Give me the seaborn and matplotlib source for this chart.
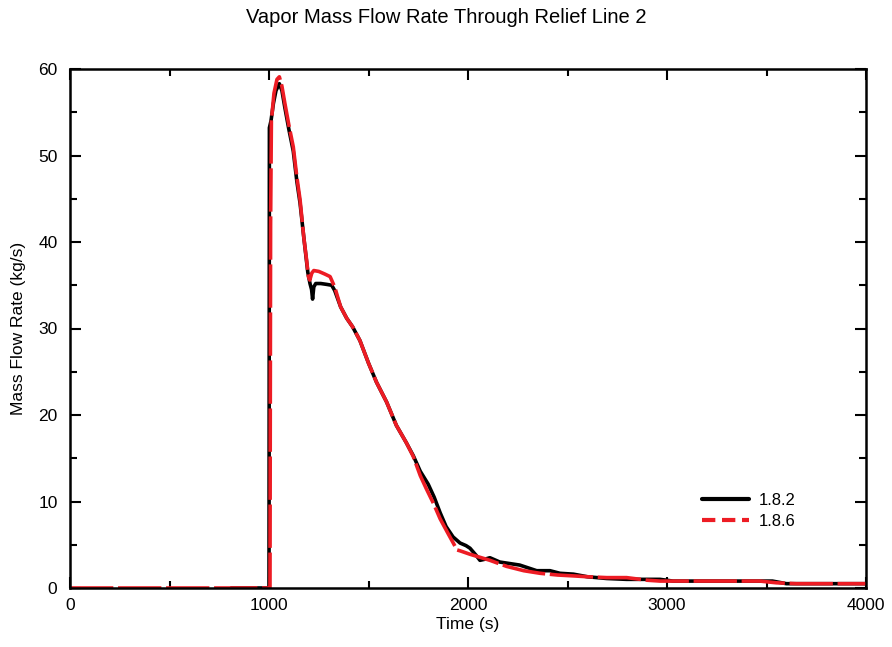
import numpy as np
import pandas as pd
import matplotlib
matplotlib.use("Agg")
import matplotlib.pyplot as plt
import seaborn as sns
from matplotlib.ticker import MultipleLocator

# ---- data ----
t_182 = [810, 1000, 1002, 1010, 1022, 1035, 1052, 1065, 1080, 1100, 1122, 1140, 1156,
         1175, 1195, 1206, 1214, 1219, 1225, 1235, 1260, 1290, 1315, 1330, 1360, 1390,
         1420, 1457, 1500, 1540, 1591, 1640, 1690, 1725, 1760, 1800, 1830, 1860,
         1890, 1925, 1960, 1990, 2010, 2040, 2060, 2080, 2110, 2160, 2260, 2345, 2412,
         2462, 2530, 2600, 2697, 2797, 2965, 3030, 3530, 3600, 4000]
y_182 = [0, 0, 53.2, 54.0, 56.0, 57.5, 58.3, 57.5, 55.5, 53.0, 50.5, 47.0, 44.5,
         40.5, 36.5, 35.2, 34.5, 33.4, 34.8, 35.2, 35.2, 35.1, 35.0, 34.4, 32.5, 31.2,
         30.2, 28.6, 26.0, 23.8, 21.5, 18.8, 16.8, 15.3, 13.5, 12.0, 10.5, 8.7,
         7.1, 5.9, 5.2, 4.9, 4.6, 3.8, 3.2, 3.3, 3.5, 3.0, 2.65, 2.0, 2.0,
         1.7, 1.6, 1.3, 1.1, 1.0, 1.0, 0.8, 0.8, 0.5, 0.5]

t_186 = [0, 1000, 1005, 1008, 1012, 1025, 1040, 1052, 1065, 1080, 1100, 1122, 1140,
         1156, 1175, 1189, 1198, 1205, 1215, 1225, 1250, 1280, 1307, 1330, 1360, 1390,
         1420, 1457, 1500, 1540, 1591, 1640, 1690, 1725, 1760, 1790, 1826, 1860, 1895,
         1926, 1945, 1960, 2010, 2110, 2194, 2280, 2362, 2450, 2529, 2600, 2697, 2797,
         2900, 2965, 3467, 3550, 3650, 4000]
y_186 = [0, 0, 0, 42.0, 54.0, 57.2, 58.8, 59.1, 58.0, 56.0, 53.5, 51.0, 47.5,
         44.9, 40.5, 37.9, 36.0, 35.6, 36.4, 36.7, 36.6, 36.3, 36.0, 34.8, 32.5, 31.2,
         30.2, 28.6, 26.0, 23.8, 21.5, 18.8, 16.8, 15.2, 13.0, 11.5, 9.8, 8.0, 6.5,
         5.2, 4.4, 4.3, 3.9, 3.2, 2.5, 2.0, 1.7, 1.5, 1.4, 1.3, 1.2, 1.2,
         0.9, 0.8, 0.8, 0.6, 0.5, 0.5]

series_names = ["1.8.2", "1.8.6"]
title = "Vapor Mass Flow Rate Through Relief Line 2"
xlabel = "Time (s)"
ylabel = "Mass Flow Rate (kg/s)"

df = pd.concat([
    pd.DataFrame({"t": t_182, "v": y_182, "ver": series_names[0]}),
    pd.DataFrame({"t": t_186, "v": y_186, "ver": series_names[1]}),
], ignore_index=True)

sns.set_theme(style="white")
plt.rcParams["font.family"] = ["Liberation Sans", "DejaVu Sans"]
plt.rcParams["text.color"] = "black"
plt.rcParams["axes.labelcolor"] = "black"
plt.rcParams["xtick.color"] = "black"
plt.rcParams["ytick.color"] = "black"

fig = plt.figure(figsize=(8.92, 6.47), dpi=100)
ax = fig.add_axes([70 / 892, 59 / 647, 796 / 892, 519 / 647])

sns.lineplot(data=df, x="t", y="v", hue="ver", style="ver",
             palette={"1.8.2": "black", "1.8.6": "#ED1C24"},
             dashes={"1.8.2": "", "1.8.6": (12, 1.3)},
             estimator=None, sort=False, linewidth=2.6, ax=ax)

ax.set_xlim(0, 4000)
ax.set_ylim(0, 60)
ax.xaxis.set_major_locator(MultipleLocator(1000))
ax.xaxis.set_minor_locator(MultipleLocator(500))
ax.yaxis.set_major_locator(MultipleLocator(10))
ax.yaxis.set_minor_locator(MultipleLocator(5))
ax.tick_params(which="both", direction="in", top=True, right=True, bottom=True, left=True,
               colors="black", labelcolor="black", width=1.5, labelsize=12.5)
ax.tick_params(axis="y", pad=9)
ax.tick_params(axis="x", pad=7)
ax.tick_params(which="major", length=8)
ax.tick_params(which="minor", length=5)
for s in ax.spines.values():
    s.set_visible(True)
    s.set_color("black")
    s.set_linewidth(1.8)

ax.set_xlabel(xlabel, fontsize=12.5, labelpad=3, color="black")
ax.set_ylabel(ylabel, fontsize=12.5, labelpad=9, color="black")
fig.suptitle(title, fontsize=14.5, y=0.988, color="black")

leg = ax.legend(loc="upper left", bbox_to_anchor=(0.775, 0.212), frameon=False,
                fontsize=12, handlelength=2.8, handletextpad=0.6, labelspacing=0.38)
for ln in leg.get_lines():
    ln.set_linewidth(3.0)
leg.get_lines()[1].set_linestyle((0, (3.2, 1.6)))
for txt in leg.get_texts():
    txt.set_color("black")

fig.savefig("out.png", dpi=100)
